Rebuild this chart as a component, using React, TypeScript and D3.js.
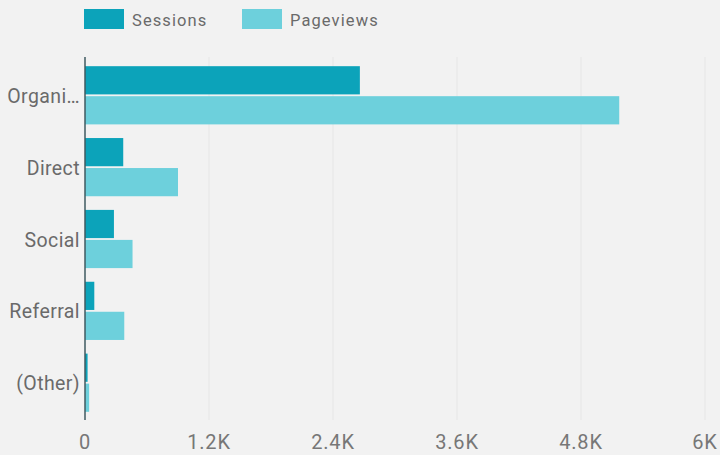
import React from "react";
import * as d3 from "d3";

const categories = ["Organi…", "Direct", "Social", "Referral", "(Other)"];
const sessions = [2660, 370, 280, 90, 25];
const pageviews = [5170, 900, 460, 380, 40];
const seriesNames = ["Sessions", "Pageviews"];
const seriesColors = ["#0ca3ba", "#6dd0dc"];
const tickValues = [0, 1200, 2400, 3600, 4800, 6000];
const tickLabels = ["0", "1.2K", "2.4K", "3.6K", "4.8K", "6K"];

const W = 720;
const H = 455;

export default function App() {
  const x = d3.scaleLinear().domain([0, 6000]).range([85, 705]);
  const y = d3
    .scaleBand<string>()
    .domain(categories)
    .range([59, 419])
    .paddingInner(0.19)
    .paddingOuter(0.1);
  const inner = d3
    .scaleBand<string>()
    .domain(seriesNames)
    .range([0, y.bandwidth()])
    .paddingInner(0.06);
  const series = [sessions, pageviews];
  const font = "Roboto, 'Open Sans', sans-serif";

  return (
    <svg
      width={W}
      height={H}
      style={{ position: "absolute", left: 0, top: 0, background: "#f2f2f2" }}
      fontFamily={font}
    >
      <rect x={0} y={0} width={W} height={H} fill="#f2f2f2" />
      {/* gridlines */}
      {tickValues.slice(1).map((t) => (
        <line
          key={t}
          x1={x(t)}
          x2={x(t)}
          y1={57}
          y2={420}
          stroke="#e6e6e6"
          strokeWidth={1}
        />
      ))}
      {/* bars */}
      {categories.map((c, i) =>
        seriesNames.map((s, j) => (
          <rect
            key={c + s}
            x={x(0)}
            y={(y(c) ?? 0) + (inner(s) ?? 0)}
            width={x(series[j][i]) - x(0)}
            height={inner.bandwidth()}
            fill={seriesColors[j]}
          />
        ))
      )}
      {/* axis line */}
      <line x1={x(0)} x2={x(0)} y1={57} y2={420} stroke="#3f5a60" strokeWidth={1.5} />
      {/* category labels */}
      {categories.map((c) => (
        <text
          key={c}
          x={80}
          y={(y(c) ?? 0) + y.bandwidth() / 2 + 1}
          textAnchor="end"
          dominantBaseline="central"
          fontSize={19.5}
          letterSpacing={0.4}
          fill="#6a6a6a"
        >
          {c}
        </text>
      ))}
      {/* x tick labels */}
      {tickValues.map((t, i) => (
        <text
          key={t}
          x={x(t)}
          y={442}
          textAnchor="middle"
          dominantBaseline="central"
          fontSize={20}
          letterSpacing={0.8}
          fill="#777"
        >
          {tickLabels[i]}
        </text>
      ))}
      {/* legend */}
      {seriesNames.map((s, j) => (
        <g key={s} transform={`translate(${84 + j * 158},9)`}>
          <rect x={0} y={0} width={40} height={20} fill={seriesColors[j]} />
          <text
            x={48}
            y={11}
            dominantBaseline="central"
            fontSize={16.5}
            letterSpacing={1.1}
            fill="#6a6a6a"
          >
            {s}
          </text>
        </g>
      ))}
    </svg>
  );
}
